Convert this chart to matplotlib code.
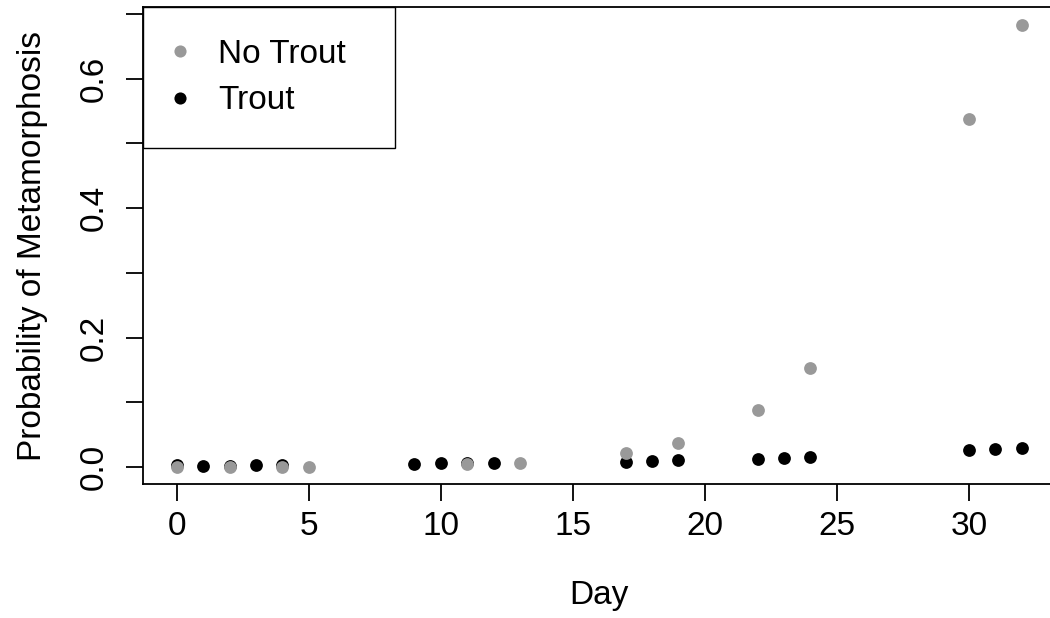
import matplotlib
matplotlib.use("Agg")
import matplotlib.pyplot as plt
from matplotlib.ticker import FixedLocator, FormatStrFormatter

plt.rcParams['font.family'] = ['Liberation Sans', 'DejaVu Sans']

# data
days_no_trout = [0, 2, 4, 5, 11, 13, 17, 19, 22, 24, 30, 32]
prob_no_trout = [0.0005, 0.0005, 0.0005, 0.0005, 0.004, 0.0067, 0.021, 0.0376,
                 0.088, 0.153, 0.537, 0.683]
days_trout = [0, 1, 2, 3, 4, 9, 10, 11, 12, 17, 18, 19, 22, 23, 24, 30, 31, 32]
prob_trout = [0.003, 0.002, 0.002, 0.003, 0.003, 0.0046, 0.0057, 0.006, 0.006,
              0.008, 0.0098, 0.011, 0.0124, 0.0144, 0.016, 0.026, 0.0278, 0.030]
x_ticks = [0, 5, 10, 15, 20, 25, 30]
y_major = [0.0, 0.2, 0.4, 0.6]
y_minor = [0.1, 0.3, 0.5, 0.7]

grey = '#999999'
fs = 24

fig = plt.figure(figsize=(10.5, 6.18), dpi=100)
ax = fig.add_axes([0.1361, 0.2163, 0.8692, 0.7718])

ax.plot(days_trout, prob_trout, 'o', color='black', ms=9.2, mew=0, label='Trout')
ax.plot(days_no_trout, prob_no_trout, 'o', color=grey, ms=9.2, mew=0, label='No Trout')
ax.margins(0.04)

for sp in ax.spines.values():
    sp.set_linewidth(1.3)

ax.xaxis.set_major_locator(FixedLocator(x_ticks))
ax.yaxis.set_major_locator(FixedLocator(y_major))
ax.yaxis.set_minor_locator(FixedLocator(y_minor))
ax.yaxis.set_major_formatter(FormatStrFormatter('%.1f'))
ax.tick_params(axis='both', which='both', direction='out', length=12, width=1.3,
               labelsize=fs, color='black')
ax.tick_params(axis='x', pad=7)
ax.tick_params(axis='y', which='both', pad=12, labelrotation=90)
for lab in ax.get_yticklabels():
    lab.set_va('center')

ax.set_xlabel('Day', fontsize=fs)
ax.xaxis.set_label_coords(0.5, -0.233)
ax.xaxis.label.set_va('center')
ax.set_ylabel('Probability of Metamorphosis', fontsize=fs)
ax.yaxis.set_label_coords(-0.121, 0.5)
ax.yaxis.label.set_va('center')

# legend box in the top-left corner, No Trout first
handles, labels = ax.get_legend_handles_labels()
leg = ax.legend(handles[::-1], labels[::-1], loc='upper left',
                bbox_to_anchor=(0, 0.5, 252 / 912.7, 0.5), mode='expand',
                borderaxespad=0, fontsize=fs, frameon=True, fancybox=False,
                framealpha=1, edgecolor='black', borderpad=0.95,
                labelspacing=0.46, handlelength=0.34, handletextpad=0.97,
                markerscale=0.95)
leg.get_frame().set_linewidth(1.0)

fig.savefig('out.png', dpi=100)
